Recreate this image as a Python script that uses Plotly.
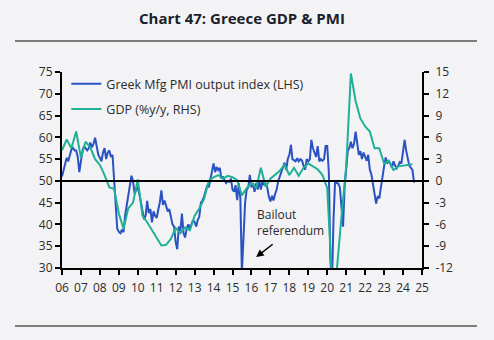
import pandas as pd
import plotly.graph_objects as go

# ---------------- data ----------------
title_text = "Chart 47: Greece GDP & PMI"
pmi_name = "Greek Mfg PMI output index (LHS)"
gdp_name = "GDP (%y/y, RHS)"

# Greek manufacturing PMI output index, monthly Jan-2006 .. Aug-2024
pmi_2006 = [51.0, 52.5, 54.0, 55.3, 54.5, 56.0, 57.2, 57.6, 57.0, 57.0, 55.5, 52.0]
pmi_2007 = [55.0, 57.0, 58.0, 57.6, 57.0, 57.5, 58.8, 57.7, 58.5, 59.9, 58.0, 56.0]
pmi_2008 = [55.3, 54.5, 56.5, 57.5, 55.0, 56.5, 57.0, 55.5, 56.0, 51.0, 46.0, 39.0]
pmi_2009 = [38.3, 38.0, 38.8, 38.2, 42.0, 44.5, 47.0, 49.5, 51.2, 50.0, 47.0, 48.0]
pmi_2010 = [48.5, 47.0, 45.0, 42.6, 41.2, 42.0, 45.4, 42.6, 43.5, 40.5, 43.0, 42.0]
pmi_2011 = [41.5, 43.5, 45.0, 47.8, 44.5, 45.5, 44.0, 43.0, 43.5, 42.0, 40.0, 39.5]
pmi_2012 = [36.0, 34.3, 39.5, 38.5, 42.5, 38.0, 37.0, 39.0, 40.0, 39.0, 40.3, 41.0]
pmi_2013 = [40.5, 39.5, 41.0, 41.8, 45.0, 45.5, 46.4, 47.5, 49.0, 48.5, 50.5, 52.2]
pmi_2014 = [54.0, 52.0, 53.2, 52.5, 53.0, 50.5, 51.0, 50.0, 49.5, 50.0, 49.8, 50.5]
pmi_2015 = [48.0, 47.5, 49.0, 45.6, 49.5, 46.0, 29.0, 37.0, 45.0, 48.0, 48.5, 51.4]
pmi_2016 = [48.5, 49.5, 47.5, 49.5, 48.0, 50.0, 48.0, 50.0, 49.0, 49.5, 48.5, 46.4]
pmi_2017 = [45.3, 46.6, 45.5, 47.0, 48.0, 50.0, 51.0, 52.0, 53.3, 54.2, 52.5, 55.0]
pmi_2018 = [56.0, 58.3, 55.0, 54.8, 54.5, 55.2, 54.5, 55.0, 54.7, 53.5, 52.6, 55.0]
pmi_2019 = [54.5, 55.0, 59.4, 57.5, 56.5, 55.5, 58.0, 54.5, 55.0, 54.6, 55.0, 58.0]
pmi_2020 = [58.0, 52.0, 32.0, 26.0, 41.0, 50.0, 49.5, 49.4, 48.5, 44.0, 39.5, 48.5]
pmi_2021 = [53.0, 57.0, 57.5, 59.0, 57.5, 58.5, 61.3, 58.5, 56.0, 56.8, 55.0, 56.5]
pmi_2022 = [55.5, 54.6, 56.0, 52.6, 51.5, 49.0, 47.0, 44.8, 46.5, 46.0, 48.5, 51.5]
pmi_2023 = [53.3, 55.4, 54.0, 54.5, 54.0, 53.0, 54.5, 53.5, 52.9, 53.5, 54.3, 54.0]
pmi_2024 = [57.1, 59.4, 57.0, 55.0, 53.5, 53.0, 52.5, 49.6]

# Greece real GDP, % y/y, quarterly Q1-2006 .. Q3-2024 (clipped by axis at -12)
gdp_2006 = [4.2, 5.7, 4.5, 6.8]
gdp_2007 = [3.2, 5.4, 4.6, 3.0]
gdp_2008 = [2.2, 0.8, -0.9, -1.1]
gdp_2009 = [-4.5, -6.6, -3.8, -3.0]
gdp_2010 = [0.2, -4.8, -5.7, -6.8]
gdp_2011 = [-8.0, -8.9, -8.8, -8.0]
gdp_2012 = [-6.5, -7.2, -6.4, -6.8]
gdp_2013 = [-4.8, -3.8, -2.5, 0.0]
gdp_2014 = [0.5, 0.8, 0.3, 0.7]
gdp_2015 = [0.5, 0.1, -2.0, -1.0]
gdp_2016 = [-0.3, -1.0, 1.8, -0.8]
gdp_2017 = [0.3, 0.9, 1.4, 2.2]
gdp_2018 = [0.8, 1.8, 0.7, 1.8]
gdp_2019 = [2.4, 2.0, 1.6, 0.8]
gdp_2020 = [-1.0, -13.5, -12.5, -5.0]
gdp_2021 = [2.0, 14.8, 11.0, 8.6]
gdp_2022 = [7.5, 6.8, 4.5, 4.5]
gdp_2023 = [2.4, 2.8, 1.5, 2.0]
gdp_2024 = [2.1, 2.3, 2.3]

left_ticks = [30, 35, 40, 45, 50, 55, 60, 65, 70, 75]
right_ticks = [-12, -9, -6, -3, 0, 3, 6, 9, 12, 15]
right_tick_text = ["-12", "-9", "-6", "-3", "0", "3", "6", "9", "12", "15"]
annotation_text = "Bailout<br>referendum"

# ---------------- assemble ----------------
pmi = (pmi_2006 + pmi_2007 + pmi_2008 + pmi_2009 + pmi_2010 + pmi_2011 + pmi_2012
       + pmi_2013 + pmi_2014 + pmi_2015 + pmi_2016 + pmi_2017 + pmi_2018 + pmi_2019
       + pmi_2020 + pmi_2021 + pmi_2022 + pmi_2023 + pmi_2024)
gdp = (gdp_2006 + gdp_2007 + gdp_2008 + gdp_2009 + gdp_2010 + gdp_2011 + gdp_2012
       + gdp_2013 + gdp_2014 + gdp_2015 + gdp_2016 + gdp_2017 + gdp_2018 + gdp_2019
       + gdp_2020 + gdp_2021 + gdp_2022 + gdp_2023 + gdp_2024)
pmi_dates = pd.date_range("2006-01-01", periods=len(pmi), freq="MS")
gdp_dates = pd.date_range("2006-01-01", periods=len(gdp), freq="QS")

BLUE = "#2a52c2"
TEAL = "#1fb096"
FONT = "Open Sans"
TXT = "#2b2b2b"

fig = go.Figure()
fig.add_trace(go.Scatter(x=pmi_dates, y=pmi, mode="lines", name=pmi_name,
                         line=dict(color=BLUE, width=2), yaxis="y",
                         legendgroup="a"))
fig.add_trace(go.Scatter(x=gdp_dates, y=gdp, mode="lines", name=gdp_name,
                         line=dict(color=TEAL, width=2), yaxis="y2",
                         legendgroup="b"))

fig.update_layout(
    width=494, height=340,
    margin=dict(l=62, r=72, t=72, b=72),
    paper_bgcolor="#f3f3f5",
    plot_bgcolor="#f3f3f5",
    font=dict(family=FONT, size=12, color=TXT),
    showlegend=True,
    legend=dict(x=0.012, y=1.015, xanchor="left", yanchor="top",
                bgcolor="rgba(0,0,0,0)", font=dict(size=12.5, color=TXT),
                traceorder="grouped", tracegroupgap=6, itemwidth=30),
    xaxis=dict(type="date", range=["2006-01-01", "2025-01-01"],
               dtick="M12", tick0="2006-01-01", tickformat="%y",
               showgrid=False, zeroline=False,
               showline=True, linecolor="black", linewidth=2,
               ticks="outside", ticklen=5, tickwidth=2, tickcolor="black",
               tickfont=dict(size=12, color=TXT), ticklabelstandoff=3),
    yaxis=dict(range=[30, 75], tickvals=left_ticks,
               showgrid=False, zeroline=False,
               showline=True, linecolor="black", linewidth=2,
               ticks="outside", ticklen=5, tickwidth=2, tickcolor="black",
               tickfont=dict(size=12, color=TXT)),
    yaxis2=dict(range=[-12, 15], tickvals=right_ticks, ticktext=right_tick_text,
                overlaying="y", side="right",
                showgrid=False, zeroline=False,
                showline=True, linecolor="black", linewidth=2,
                ticks="outside", ticklen=5, tickwidth=2, tickcolor="black",
                tickfont=dict(size=12, color=TXT), ticklabelstandoff=4),
)

# 50 / 0 reference line
fig.add_shape(type="line", xref="paper", yref="y", x0=0, x1=1, y0=50, y1=50,
              line=dict(color="black", width=2), layer="above")

# title and separators
fig.add_annotation(text="<b>" + title_text + "</b>", xref="paper", yref="paper",
                   x=0.5, y=1.0, yshift=54, xanchor="center", yanchor="middle",
                   showarrow=False, font=dict(size=15, color="#1b1f2c", family=FONT))
for yy in (41, 326):
    fig.add_shape(type="line", xref="paper", yref="paper",
                  x0=-47 / 360, x1=415 / 360,
                  y0=(268 - yy) / 196, y1=(268 - yy) / 196,
                  line=dict(color="#555555", width=1.5))

# bailout annotation
fig.add_annotation(text=annotation_text, xref="x", yref="y",
                   x="2016-03-01", y=36.1, xanchor="left", yanchor="bottom",
                   align="left", showarrow=False,
                   font=dict(size=12, color=TXT, family=FONT))
fig.add_annotation(text="", xref="x", yref="y", x="2016-04-01", y=32.5,
                   ax=18, ay=-14, showarrow=True, arrowhead=2, arrowsize=1,
                   arrowwidth=1.5, arrowcolor="black")

fig.write_html("out.html")
